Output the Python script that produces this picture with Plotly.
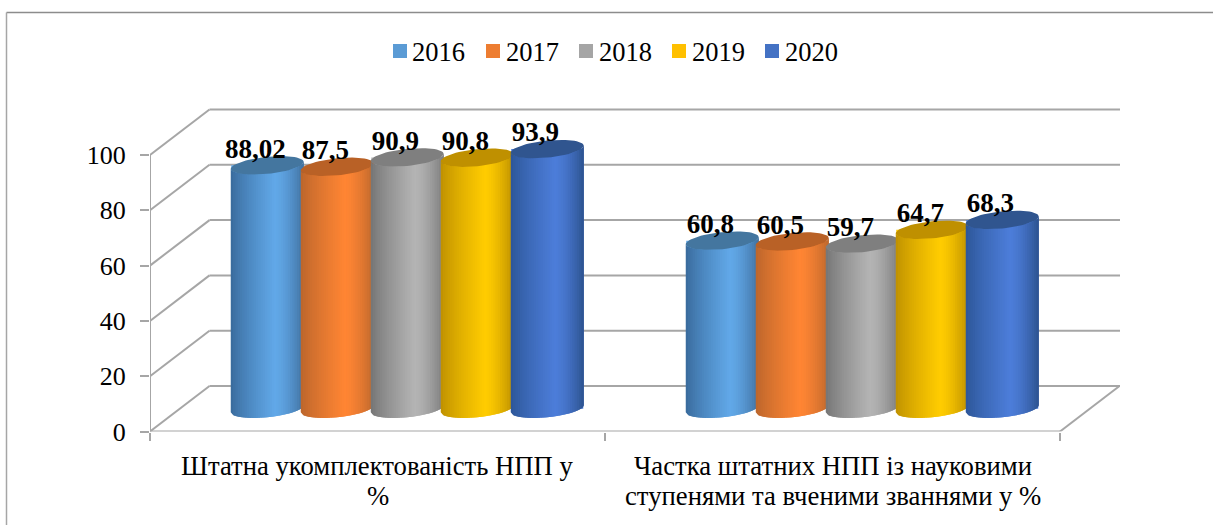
import math
import plotly.graph_objects as go

# ---- data ----
categories = [["Штатна укомплектованість НПП у", "%"],
              ["Частка штатних НПП із науковими", "ступенями та вченими званнями у %"]]
years = ["2016", "2017", "2018", "2019", "2020"]
v2016 = [88.02, 60.8]
v2017 = [87.5, 60.5]
v2018 = [90.9, 59.7]
v2019 = [90.8, 64.7]
v2020 = [93.9, 68.3]
y_ticks = [0, 20, 40, 60, 80, 100]
series_values = [v2016, v2017, v2018, v2019, v2020]

# ---- styles ----
legend_cols = ["#5b9bd5", "#ed7d31", "#a5a5a5", "#ffc000", "#4472c4"]
left_cols = ["#38699a", "#b9652c", "#737373", "#bd8f00", "#2c5596"]
mid_cols = ["#61a8e8", "#ff8533", "#b4b4b4", "#ffcc00", "#4c7dd9"]
right_cols = ["#41719f", "#bd682e", "#7c7c7c", "#bb8e00", "#2d5390"]
top_cols = ["#44769f", "#b96126", "#7f7f7f", "#bf9000", "#30558f"]
GRID = "#a6a6a6"
FONT = "Liberation Serif"

# ---- geometry in pixels, converted to axis units ----
W, H = 1213, 525
PX_X = 455.0      # pixels per category
PX_Y = 2.765      # pixels per value unit
X0, Y0 = 150, 431.5
RIGHT, TOP = 1121, 100
DX, DY = 59.5, 45.5
CYL_W, PITCH = 73.0, 70.0
A, B, K = CYL_W / 2, 8.5, 3.5
STRIPS = 32

ux = lambda px: px / PX_X
uy = lambda px: px / PX_Y
x_range = [0, (RIGHT - X0) / PX_X]
y_range = [0, (Y0 - TOP) / PX_Y]
ndepth = uy(DY / 2)


def lerp_hex(c1, c2, f):
    a = [int(c1[i:i + 2], 16) for i in (1, 3, 5)]
    b = [int(c2[i:i + 2], 16) for i in (1, 3, 5)]
    return "#%02x%02x%02x" % tuple(round(p + (q - p) * f) for p, q in zip(a, b))


def shade(s, u):
    peak = 0.6
    if u < peak:
        return lerp_hex(left_cols[s], mid_cols[s], (u / peak) ** 0.8)
    return lerp_hex(mid_cols[s], right_cols[s], ((u - peak) / (1 - peak)) ** 1.5)


def rim_y(base, c):
    sin_t = math.sqrt(max(0, 1 - c * c))
    return base + uy(-B * sin_t + K * c)


fig = go.Figure()
centers = {}
for s, vals in enumerate(series_values):
    cx = [c + 0.5 + ux(DX / 2) + ux((s - 2) * PITCH) for c in range(len(categories))]
    centers[s] = cx
    fig.add_trace(go.Bar(x=cx, y=vals, base=[ndepth] * len(vals), width=ux(CYL_W - 1),
                         name=years[s], marker=dict(color=mid_cols[s], line_width=0),
                         showlegend=False, hoverinfo="skip"))

for s, vals in enumerate(series_values):
    cx = centers[s]
    for i in range(STRIPS):
        c1 = -1 + 2 * i / STRIPS
        c2 = min(1, -1 + 2 * (i + 2) / STRIPS)
        xs, ys = [], []
        for cc, v in zip(cx, vals):
            n = 4
            cs = [c1 + (c2 - c1) * j / n for j in range(n + 1)]
            xs += [cc + ux(A * q) for q in cs] + [cc + ux(A * q) for q in reversed(cs)] + [None]
            ys += [rim_y(ndepth, q) for q in cs] + [rim_y(ndepth + v, q) for q in reversed(cs)] + [None]
        fig.add_trace(go.Scatter(x=xs, y=ys, mode="lines", fill="toself", line_width=0,
                                 fillcolor=shade(s, (i + 0.5) / STRIPS),
                                 showlegend=False, hoverinfo="skip"))
    xs, ys = [], []
    for cc, v in zip(cx, vals):
        for j in range(61):
            t = 2 * math.pi * j / 60
            xs.append(cc + ux(A * math.cos(t)))
            ys.append(ndepth + v + uy(B * math.sin(t) + K * math.cos(t)))
        xs.append(None)
        ys.append(None)
    fig.add_trace(go.Scatter(x=xs, y=ys, mode="lines", fill="toself", line_width=0,
                             fillcolor=top_cols[s], showlegend=False, hoverinfo="skip"))

for s, vals in enumerate(series_values):
    fig.add_trace(go.Scatter(
        x=[c - ux(12) for c in centers[s]],
        y=[ndepth + v + uy(1) for v in vals],
        mode="text", text=[str(v).replace(".", ",") for v in vals],
        textposition="top center", cliponaxis=False,
        textfont=dict(family=FONT, size=27, color="#000000", weight="bold"),
        showlegend=False, hoverinfo="skip"))

shapes = []
ln = dict(color=GRID, width=2)
for t in y_ticks:
    shapes.append(dict(type="line", xref="x", yref="y", layer="below", line=ln,
                       x0=ux(DX), x1=x_range[1] - ux(1), y0=t + uy(DY), y1=t + uy(DY)))
    shapes.append(dict(type="line", xref="x", yref="y", layer="below", line=ln,
                       x0=0, x1=ux(DX), y0=t, y1=t + uy(DY)))
shapes.append(dict(type="line", xref="x", yref="y", layer="below", line=ln,
                   x0=2, x1=2 + ux(DX), y0=0, y1=uy(DY)))
shapes.append(dict(type="line", xref="x", yref="y", layer="below", line=ln,
                   x0=0, x1=2, y0=0, y1=0))
shapes.append(dict(type="line", xref="x", yref="y", layer="below", line=ln,
                   x0=0, x1=0, y0=0, y1=100))
shapes.append(dict(type="line", xref="paper", yref="paper", x0=6.5 / W, x1=1, y0=1 - 12.5 / H, y1=1 - 12.5 / H,
                   line=dict(color="#8c8c8c", width=1.5)))
shapes.append(dict(type="line", xref="paper", yref="paper", x0=6.5 / W, x1=6.5 / W, y0=0, y1=1 - 12.5 / H,
                   line=dict(color="#a6a6a6", width=1.5)))

annotations = []
for s, yr in enumerate(years):
    lx = 393 + 93 * s
    shapes.append(dict(type="rect", xref="paper", yref="paper", line_width=0, fillcolor=legend_cols[s],
                       x0=lx / W, x1=(lx + 14) / W, y0=1 - 58 / H, y1=1 - 44 / H))
    annotations.append(dict(xref="paper", yref="paper", x=(lx + 17.5) / W, y=1 - 52 / H, text=yr,
                            showarrow=False, xanchor="left", yanchor="middle",
                            font=dict(family=FONT, size=26.5, color="#000000")))

for c, lines in enumerate(categories):
    for n, line in enumerate(lines):
        annotations.append(dict(xref="x", yref="paper", x=c + 0.5, y=1 - (466 + 30 * n) / H, text=line,
                                showarrow=False, xanchor="center", yanchor="middle",
                                font=dict(family=FONT, size=26.7, color="#000000")))

fig.update_layout(
    width=W, height=H, margin=dict(l=0, r=0, t=0, b=0, pad=0),
    paper_bgcolor="white", plot_bgcolor="white",
    barmode="overlay", showlegend=False, shapes=shapes, annotations=annotations,
    xaxis=dict(domain=[X0 / W, RIGHT / W], range=x_range, showgrid=False, zeroline=False, showline=False,
               automargin=False, tickmode="array", tickvals=[0, 1, 2], ticktext=["", "", ""],
               ticks="outside", ticklen=8, tickwidth=2, tickcolor=GRID),
    yaxis=dict(domain=[(H - Y0) / H, (H - TOP) / H], range=y_range, showgrid=False, zeroline=False, showline=False,
               automargin=False, tickmode="array", tickvals=y_ticks, ticktext=[str(t) for t in y_ticks],
               ticks="outside", ticklen=9, tickwidth=1.5, tickcolor=GRID, ticklabelstandoff=9,
               tickfont=dict(family=FONT, size=26, color="#000000")),
)

fig.write_html("out.html", post_script="document.body.style.margin='0';document.body.style.overflow='hidden';",
               config={"displayModeBar": False})
